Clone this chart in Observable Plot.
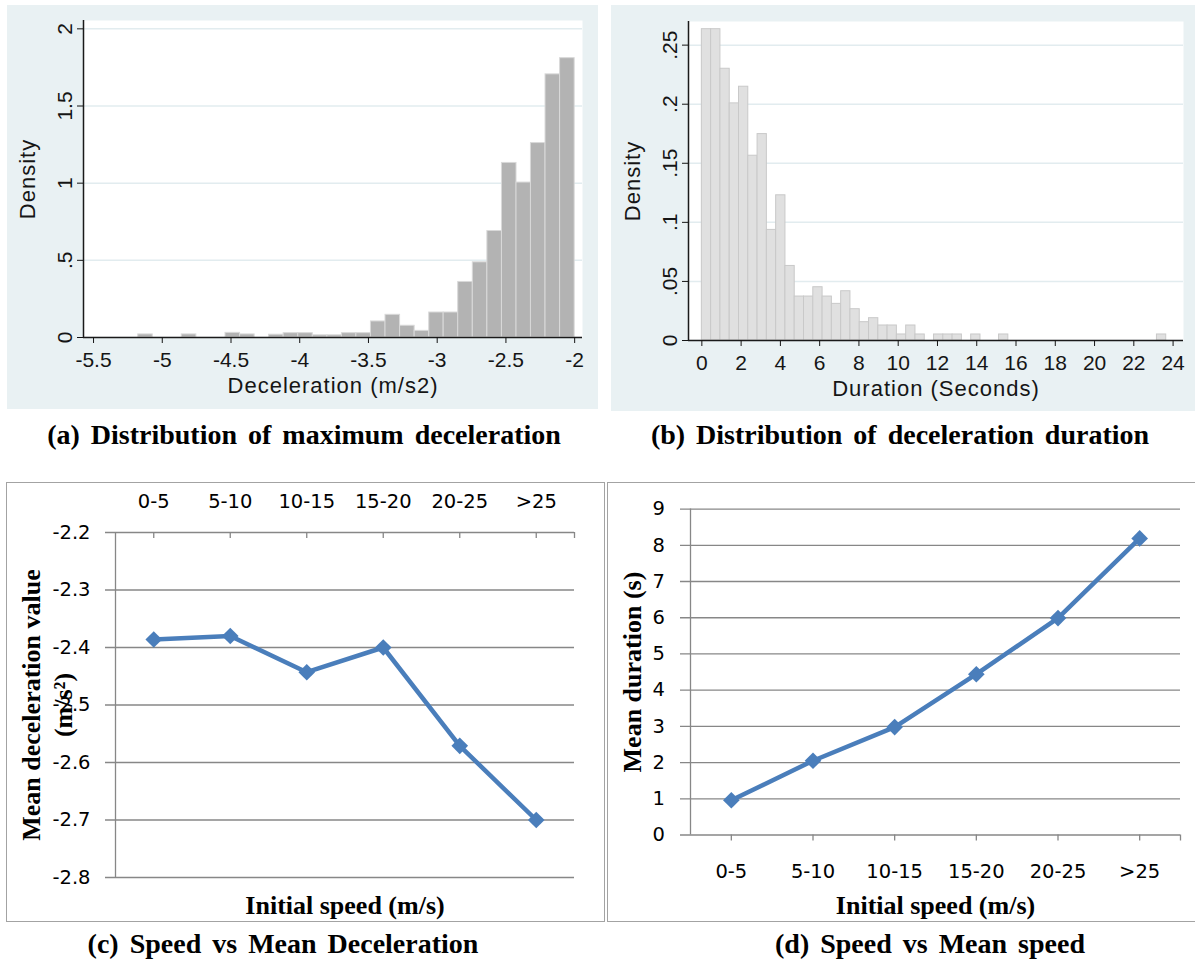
<!DOCTYPE html>
<html><head><meta charset="utf-8">
<script src="https://cdn.jsdelivr.net/npm/d3@7"></script>
<script src="https://cdn.jsdelivr.net/npm/@observablehq/plot@0.6"></script>
<style>
html,body{margin:0;padding:0;background:#fff;}
#fig{position:relative;width:1195px;height:963px;overflow:hidden;background:#fff;}
.panel{position:absolute;}
.panel svg{display:block;max-width:none;}
.box{position:absolute;border:1.6px solid #a3a3a3;box-sizing:border-box;}
.cap{position:absolute;width:640px;text-align:center;font-family:"Liberation Serif","Times New Roman",serif;font-weight:bold;font-size:28px;line-height:36px;word-spacing:4px;color:#000;white-space:nowrap;}
#pa g[aria-label="text"] text, #pb g[aria-label="text"] text{letter-spacing:1px;}
</style></head>
<body><div id="fig">
<div class="panel" id="pa" style="left:7px;top:5px"></div>
<div class="panel" id="pb" style="left:611px;top:5px"></div>
<div class="cap" style="left:-16px;top:417px">(a) Distribution of maximum deceleration</div>
<div class="cap" style="left:580px;top:417px">(b) Distribution of deceleration duration</div>
<div class="box" style="left:6px;top:482px;width:599px;height:440px"></div>
<div class="box" style="left:607px;top:482px;width:589px;height:440px"></div>
<div class="panel" id="pc" style="left:7px;top:483px"></div>
<div class="panel" id="pd" style="left:608px;top:483px"></div>
<div class="cap" style="left:-37px;top:926px">(c) Speed vs Mean Deceleration</div>
<div class="cap" style="left:610px;top:926px">(d) Speed vs Mean speed</div>
</div>
<script>
// ---- Panel (a): histogram of maximum deceleration ----
const decelEdges = [-5.175,-5.069,-4.963,-4.858,-4.752,-4.646,-4.540,-4.434,-4.328,-4.223,-4.117,-4.011,-3.905,-3.799,-3.693,-3.588,-3.482,-3.376,-3.270,-3.164,-3.058,-2.953,-2.847,-2.741,-2.635,-2.529,-2.423,-2.318,-2.212,-2.106,-2.000];
const decelDensity = [0.020,0,0,0.020,0,0,0.030,0.020,0,0.018,0.028,0.028,0.014,0.014,0.028,0.028,0.104,0.147,0.076,0.043,0.162,0.162,0.360,0.487,0.690,1.131,1.004,1.260,1.705,1.810];
const decelXTicks = [-5.5,-5,-4.5,-4,-3.5,-3,-2.5,-2];
const decelYTicks = [0,0.5,1,1.5,2];
const decelXDomain = [-5.573,-1.943];
const decelYDomain = [0,2.054];

// ---- Panel (b): histogram of deceleration duration ----
const durEdges = [0,0.473,0.946,1.419,1.892,2.365,2.838,3.311,3.784,4.257,4.730,5.203,5.676,6.149,6.622,7.095,7.568,8.041,8.514,8.987,9.460,9.933,10.406,10.879,11.352,11.825,12.298,12.771,13.244,13.717,14.190,14.663,15.136,15.609,16.082,16.555,17.028,17.501,17.974,18.447,18.920,19.393,19.866,20.339,20.812,21.285,21.758,22.231,22.704,23.177,23.650];
const durDensity = [0.2635,0.2635,0.230,0.2007,0.2148,0.1564,0.1747,0.0936,0.1229,0.0631,0.0372,0.0372,0.0451,0.0372,0.031,0.0417,0.0265,0.0155,0.0189,0.0127,0.0127,0.0051,0.0127,0.0051,0,0.0051,0.0051,0.0051,0,0.0051,0,0,0.0051,0,0,0,0,0,0,0,0,0,0,0,0,0,0,0,0,0.0051];
const durXTicks = [0,2,4,6,8,10,12,14,16,18,20,22,24];
const durYTicks = [0,0.05,0.1,0.15,0.2,0.25];
const durXDomain = [-0.68,24.53];
const durYDomain = [0,0.27];

// ---- Panels (c) and (d): means by initial speed ----
const speedBins = ["0-5","5-10","10-15","15-20","20-25",">25"];
const meanDecel = [-2.386,-2.380,-2.443,-2.400,-2.571,-2.700];
const meanDuration = [0.96,2.05,2.98,4.44,5.99,8.19];
const meanDecelTicks = [-2.2,-2.3,-2.4,-2.5,-2.6,-2.7,-2.8];
const meanDurTicks = [0,1,2,3,4,5,6,7,8,9];

const stataFmt = d => String(d).replace(/^0\./, ".");
const stataFont = "'Liberation Sans', Arial, sans-serif";
const serif = "'Liberation Serif', 'Times New Roman', serif";

function histogram({edges, density, xTicks, yTicks, xDomain, yDomain, fill, stroke, xTitle, ml, mr, mt, mb, w, h}) {
  const bars = density.map((d, i) => ({x1: edges[i], x2: edges[i + 1], y: d}));
  return Plot.plot({
    width: w, height: h,
    marginLeft: ml, marginRight: mr, marginTop: mt, marginBottom: mb,
    style: {background: "#e9f1f3", fontFamily: stataFont, fontSize: "21px", color: "#151515", overflow: "visible"},
    x: {domain: xDomain, label: null},
    y: {domain: yDomain, label: null},
    marks: [
      Plot.frame({fill: "white", stroke: "none"}),
      Plot.gridY({ticks: yTicks, stroke: "#e2ecef", strokeOpacity: 1, strokeWidth: 1.5}),
      Plot.rectY(bars, {x1: "x1", x2: "x2", y: "y", fill, stroke, strokeWidth: 1}),
      Plot.ruleY([yDomain[0]], {stroke: "#1a1a1a", strokeWidth: 1.5}),
      Plot.ruleX([xDomain[0]], {stroke: "#1a1a1a", strokeWidth: 1.5}),
      Plot.axisX({ticks: xTicks, tickFormat: stataFmt, tickSize: 6, tickPadding: 9, label: null}),
      Plot.axisY({ticks: yTicks, tickFormat: stataFmt, tickSize: 6, tickPadding: 6, tickRotate: -90, label: null}),
      Plot.text([xTitle], {text: d => d, frameAnchor: "bottom", dy: 48, textAnchor: "middle", lineAnchor: "middle", fontSize: 22}),
      Plot.text(["Density"], {text: d => d, frameAnchor: "left", dx: -56, rotate: -90, textAnchor: "middle", lineAnchor: "middle", fontSize: 22})
    ]
  });
}

document.getElementById("pa").append(histogram({
  edges: decelEdges, density: decelDensity, xTicks: decelXTicks, yTicks: decelYTicks,
  xDomain: decelXDomain, yDomain: decelYDomain, fill: "#b3b3b3", stroke: "#d9d9d9",
  xTitle: "Deceleration (m/s2)", w: 591, h: 404, ml: 76, mr: 16, mt: 15, mb: 72
}));
document.getElementById("pb").append(histogram({
  edges: durEdges, density: durDensity, xTicks: durXTicks, yTicks: durYTicks,
  xDomain: durXDomain, yDomain: durYDomain, fill: "#e0e0e0", stroke: "#c9c9c9",
  xTitle: "Duration (Seconds)", w: 584, h: 406, ml: 77, mr: 12, mt: 16, mb: 71
}));

const catIdx = speedBins.map((_, i) => i);
const catDomain = [-0.5, speedBins.length - 0.5];
const catTickMarks = [...catIdx, speedBins.length - 0.5];
const gridGrey = "#878787";
const blue = "#4a7ebb";

function excelLine({values, yTicks, yDomain, yFmt, topAxis, yTitle, titleDx, xTitleDy, ml, mr, mt, mb, w, h, catPad, yPad}) {
  const pts = speedBins.map((s, i) => ({i, v: values[i]}));
  const base = topAxis ? yDomain[1] : yDomain[0];
  return Plot.plot({
    width: w, height: h,
    marginLeft: ml, marginRight: mr, marginTop: mt, marginBottom: mb,
    style: {background: "transparent", fontFamily: "'DejaVu Sans', sans-serif", fontSize: "19.5px", color: "#000", overflow: "visible"},
    x: {domain: catDomain, label: null},
    y: {domain: yDomain, label: null},
    marks: [
      Plot.ruleY(yTicks, {stroke: gridGrey, strokeWidth: 1.3, insetLeft: -10}),
      Plot.ruleX([catDomain[0]], {stroke: gridGrey, strokeWidth: 1.3}),
      Plot.ruleX(catTickMarks, {y1: () => base, y2: () => base, insetBottom: -6, stroke: gridGrey, strokeWidth: 1.3}),
      Plot.axisX({anchor: topAxis ? "top" : "bottom", ticks: catIdx, tickFormat: i => speedBins[i], tickSize: 0, tickPadding: catPad, label: null}),
      Plot.axisY({ticks: yTicks, tickFormat: yFmt, tickSize: 0, tickPadding: yPad, label: null}),
      Plot.line(pts, {x: "i", y: "v", stroke: blue, strokeWidth: 4.5}),
      Plot.dot(pts, {x: "i", y: "v", symbol: "diamond2", r: 7.5, fill: blue, stroke: "none"}),
      Plot.text(["Initial speed (m/s)"], {text: d => d, frameAnchor: "bottom", dy: xTitleDy, textAnchor: "middle", lineAnchor: "middle", fontFamily: serif, fontWeight: "bold", fontSize: 26}),
      Plot.text([yTitle], {text: d => d, frameAnchor: "left", dx: titleDx, rotate: -90, textAnchor: "middle", lineAnchor: "middle", lineHeight: 1.23, fontFamily: serif, fontWeight: "bold", fontSize: 26})
    ]
  });
}

document.getElementById("pc").append(excelLine({
  values: meanDecel, yTicks: meanDecelTicks, yDomain: [-2.8, -2.2], yFmt: d => d.toFixed(1),
  topAxis: true, yTitle: "Mean deceleration value\n(m/s²)", titleDx: -70, xTitleDy: 28,
  w: 597, h: 438, ml: 108, mr: 30, mt: 49, mb: 44, catPad: 25, yPad: 25
}));
document.getElementById("pd").append(excelLine({
  values: meanDuration, yTicks: meanDurTicks, yDomain: [0, 9], yFmt: d => String(d),
  topAxis: false, yTitle: "Mean duration (s)", titleDx: -60, xTitleDy: 70.5,
  w: 587, h: 438, ml: 82, mr: 15, mt: 25.6, mb: 86.5, catPad: 29, yPad: 25.5
}));
</script>
</body></html>
